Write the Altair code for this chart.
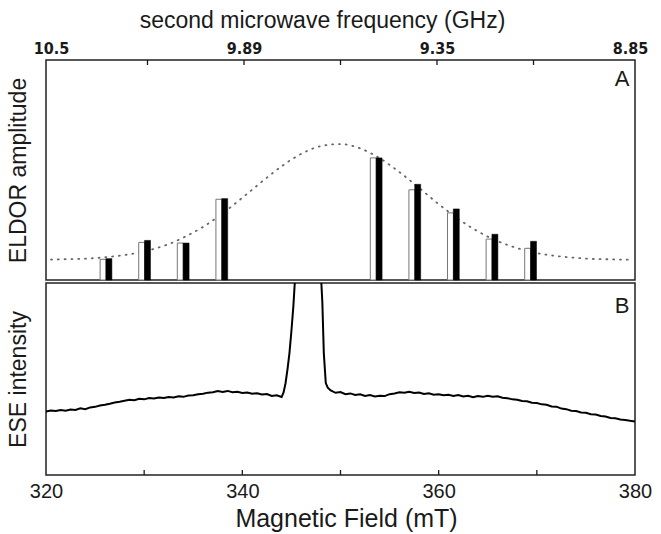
import altair as alt
import pandas as pd

# ---- Panel A: ELDOR amplitudes for the pulse pairs (field in mT) ----
white_field = [325.4, 329.4, 333.4, 337.4, 353.4, 357.4, 361.4, 365.4, 369.4]
black_field = [326.0, 330.0, 334.0, 338.0, 354.0, 358.0, 362.0, 366.0, 370.0]
white_amp = [0.094, 0.171, 0.168, 0.367, 0.555, 0.410, 0.305, 0.186, 0.144]
black_amp = [0.097, 0.180, 0.168, 0.370, 0.555, 0.435, 0.323, 0.208, 0.176]

# dotted envelope
curve_field = [320, 322, 324, 326, 328, 330, 332, 334, 336, 338, 340,
               342, 344, 346, 348, 350, 352, 354, 356, 358, 360, 362,
               364, 366, 368, 370, 372, 374, 376, 378, 380]
curve_amp = [0.093, 0.095, 0.098, 0.105, 0.116, 0.134, 0.160, 0.199, 0.248,
             0.310, 0.380, 0.452, 0.520, 0.575, 0.609, 0.618, 0.599, 0.555,
             0.494, 0.424, 0.351, 0.284, 0.227, 0.182, 0.149, 0.125, 0.111,
             0.102, 0.096, 0.094, 0.092]

# ---- Panel B: echo-detected field-swept spectrum ----
ese_field = [
    320.0, 320.5, 321.0, 321.5, 322.0, 322.5, 323.0, 323.5, 324.0, 324.5,
    325.0, 325.5, 326.0, 326.5, 327.0, 327.5, 328.0, 328.5, 329.0, 329.5,
    330.0, 330.5, 331.0, 331.5, 332.0, 332.5, 333.0, 333.5, 334.0, 334.5,
    335.0, 335.5, 336.0, 336.5, 337.0, 337.5, 338.0, 338.5, 339.0, 339.5,
    340.0, 340.5, 341.0, 341.5, 342.0, 342.5, 343.0, 343.5, 344.0,
    344.2, 344.4, 344.6, 344.8, 345.0, 345.2, 345.4, 345.8, 346.5, 347.0,
    347.6, 348.0, 348.15, 348.3, 348.5, 348.7, 349.0,
    349.5, 350.0, 350.5, 351.0, 351.5, 352.0, 352.5, 353.0, 353.5, 354.0,
    354.5, 355.0, 355.5, 356.0, 356.5, 357.0, 357.5, 358.0, 358.5, 359.0,
    359.5, 360.0, 360.5, 361.0, 361.5, 362.0, 362.5, 363.0, 363.5, 364.0,
    364.5, 365.0, 365.5, 366.0, 366.5, 367.0, 367.5, 368.0, 368.5, 369.0,
    369.5, 370.0, 370.5, 371.0, 371.5, 372.0, 372.5, 373.0, 373.5, 374.0,
    374.5, 375.0, 375.5, 376.0, 376.5, 377.0, 377.5, 378.0, 378.5, 379.0,
    379.5, 380.0,
]
ese_int = [
    0.331, 0.336, 0.333, 0.338, 0.335, 0.341, 0.339, 0.347, 0.343, 0.352,
    0.355, 0.362, 0.366, 0.371, 0.378, 0.382, 0.387, 0.392, 0.389, 0.397,
    0.394, 0.401, 0.398, 0.403, 0.401, 0.406, 0.404, 0.410, 0.407, 0.414,
    0.415, 0.421, 0.423, 0.429, 0.431, 0.437, 0.433, 0.438, 0.431, 0.434,
    0.427, 0.430, 0.423, 0.426, 0.419, 0.422, 0.412, 0.415, 0.406,
    0.430, 0.478, 0.550, 0.635, 0.750, 0.880, 1.050, 1.600, 2.400, 2.400,
    1.600, 1.050, 0.900, 0.635, 0.479, 0.455, 0.440,
    0.428, 0.432, 0.421, 0.425, 0.417, 0.420, 0.412, 0.416, 0.409, 0.413,
    0.411, 0.421, 0.425, 0.431, 0.428, 0.434, 0.427, 0.430, 0.422, 0.426,
    0.418, 0.421, 0.415, 0.418, 0.411, 0.416, 0.409, 0.413, 0.405, 0.411,
    0.407, 0.413, 0.408, 0.410, 0.402, 0.400, 0.394, 0.392, 0.385, 0.384,
    0.376, 0.375, 0.368, 0.366, 0.357, 0.356, 0.346, 0.343, 0.335, 0.333,
    0.326, 0.324, 0.316, 0.315, 0.307, 0.305, 0.297, 0.296, 0.289, 0.287,
    0.282, 0.278,
]

# ---- Axes ----
label_field = [320, 340, 360, 380]
freq_labels = ["10.5", "9.89", "9.35", "8.85"]
inner_ticks = [330, 340, 350, 360, 370]

W, HA, HB = 589, 220, 192
FONT = "Liberation Sans"
NARROW = "'DejaVu Sans Condensed', 'Liberation Sans', sans-serif"
INK = "#1a1a1a"

freq_expr = " : ".join(
    f"datum.value == {v} ? '{l}'" for v, l in zip(label_field, freq_labels)
) + " : ''"

xscale = alt.Scale(domain=[320, 380], nice=False, zero=False)

x_top = alt.X(
    "field:Q", scale=xscale,
    axis=alt.Axis(
        orient="top", values=label_field, labelExpr=freq_expr,
        ticks=False, tickSize=0, domain=False, grid=False,
        labelFlush=False, labelOverlap=False,
        labelFont=NARROW, labelFontWeight="bold",
        labelFontSize=16, labelColor=INK, labelPadding=4,
        title="second microwave frequency (GHz)", titleFont=FONT,
        titleFontSize=23, titleFontWeight="normal", titleColor=INK,
        titlePadding=8, titleX=276,
    ),
)
x_bot = alt.X(
    "field:Q", scale=xscale,
    axis=alt.Axis(
        orient="bottom", values=label_field,
        ticks=False, tickSize=0, domain=False, grid=False,
        labelFlush=False, labelOverlap=False,
        labelFont=FONT, labelFontSize=20, labelColor=INK, labelPadding=6,
        title="Magnetic Field (mT)", titleFont=FONT, titleFontSize=25,
        titleFontWeight="normal", titleColor=INK, titlePadding=5, titleX=300,
    ),
)


def y_enc(title, field):
    return alt.Y(
        f"{field}:Q", scale=alt.Scale(domain=[0, 1], nice=False, zero=True),
        axis=alt.Axis(
            title=title, labels=False, ticks=False, domain=False, grid=False,
            titleFont=FONT, titleFontSize=23, titleFontWeight="normal",
            titleColor=INK, titlePadding=16,
        ),
    )


y_a = y_enc("ELDOR amplitude", "amp")
y_b = y_enc("ESE intensity", "inten")

white_df = pd.DataFrame({"field": white_field, "amp": white_amp})
black_df = pd.DataFrame({"field": black_field, "amp": black_amp})
curve_df = pd.DataFrame({"field": curve_field, "amp": curve_amp})
ese_df = pd.DataFrame({"field": ese_field, "inten": ese_int})
tick_df = pd.DataFrame({"field": inner_ticks})

envelope = alt.Chart(curve_df).mark_line(
    color="#666", strokeWidth=1.8, strokeDash=[1, 5.8], strokeCap="round",
    interpolate="monotone",
).encode(x=x_top, y=y_a)

white_bars = alt.Chart(white_df).mark_bar(
    size=6, fill="white", stroke="#777", strokeWidth=1,
).encode(x=x_top, y=y_a)

black_bars = alt.Chart(black_df).mark_bar(
    size=6, fill="black", stroke="black", strokeWidth=0.5,
).encode(x=x_top, y=y_a)

ticks_a = alt.Chart(tick_df).mark_rule(color=INK, strokeWidth=1.3).encode(
    x=x_top, y=alt.value(0), y2=alt.value(5)
)

label_a = alt.Chart(pd.DataFrame({"t": ["A"]})).mark_text(
    font=FONT, fontSize=22, color=INK, align="center", baseline="alphabetic"
).encode(text="t:N", x=alt.value(576), y=alt.value(25.5))

panel_a = alt.layer(envelope, white_bars, black_bars, ticks_a, label_a).properties(
    width=W, height=HA
)

spectrum = alt.Chart(ese_df).mark_line(
    color="black", strokeWidth=2, clip=True, interpolate="linear",
).encode(x=x_bot, y=y_b)

ticks_b = alt.Chart(tick_df).mark_rule(color=INK, strokeWidth=1.3).encode(
    x=x_bot, y=alt.value(HB), y2=alt.value(HB - 5)
)

label_b = alt.Chart(pd.DataFrame({"t": ["B"]})).mark_text(
    font=FONT, fontSize=22, color=INK, align="center", baseline="alphabetic"
).encode(text="t:N", x=alt.value(576), y=alt.value(30))

panel_b = alt.layer(spectrum, ticks_b, label_b).properties(width=W, height=HB)

chart = alt.vconcat(panel_a, panel_b, spacing=0).properties(
    padding={"left": 6, "top": 8, "right": 5, "bottom": 5},
    background="white",
).configure_view(
    stroke="#222", strokeWidth=1.5
)

chart.save("out.html", embed_options={"renderer": "svg", "actions": False})
